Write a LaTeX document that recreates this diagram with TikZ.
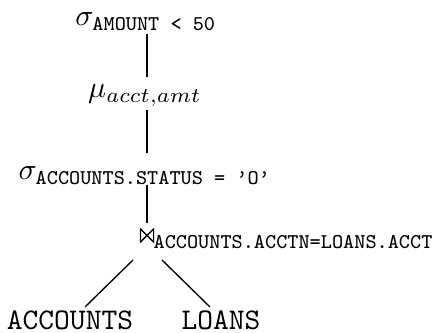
\documentclass[tikz,border=0pt]{standalone}
\usepackage{amsmath,amssymb,mathtools}
\usetikzlibrary{calc}
\begin{document}
\begin{tikzpicture}[x=0.3333pt,y=-0.3333pt,
  every node/.style={inner sep=0pt},
  edge/.style={line width=0.45pt}]
\useasboundingbox (0,0) rectangle (438,333);
\node[anchor=base] (s1) at (146,26) {$\sigma_{\texttt{AMOUNT < 50}}$};
\node[anchor=base] (mu) at (145,98) {$\mu_{acct,amt}$};
\node[anchor=base] (s2) at (145,180) {$\sigma_{\texttt{ACCOUNTS.STATUS = ’O’}}$};
\node[anchor=base] (j) at (148,244) {$\Join_{\mathrlap{\mkern-4mu\texttt{ACCOUNTS.ACCTN=LOANS.ACCT}}}$};
\node[anchor=base] (acc) at (70,330) {\texttt{ACCOUNTS}};
\node[anchor=base] (loans) at (221,330) {\texttt{LOANS}};
\draw[edge] ($(s1.base -| j.base)+(-1,8)$) -- ($(mu.base -| j.base)+(-1,-21)$);
\draw[edge] ($(mu.base -| j.base)+(-1,12)$) -- ($(s2.base -| j.base)+(-1,-27)$);
\draw[edge] ($(s2.base -| j.base)+(-1,5)$) -- ($(j.base)+(-1,-21)$);
\draw[edge] ($(j.base)+(-15,16)$) -- ($(acc.base)+(15,-23)$);
\draw[edge] ($(j.base)+(14,16)$) -- ($(loans.base)+(-11,-23)$);
\end{tikzpicture}
\end{document}
